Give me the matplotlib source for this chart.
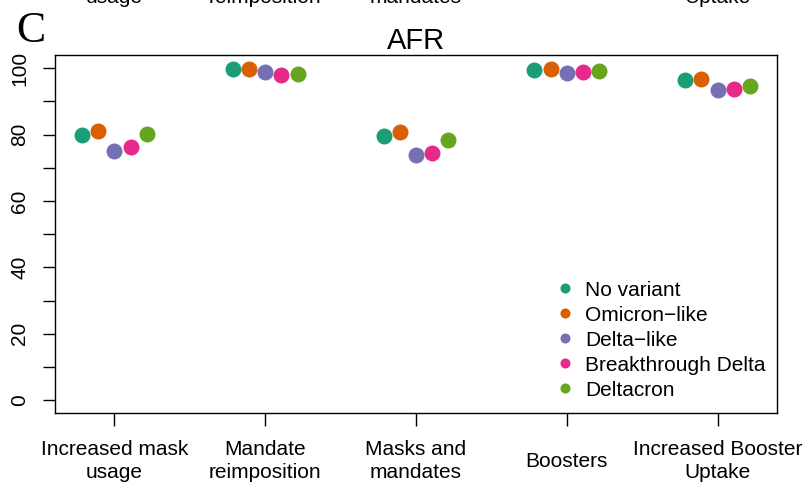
import numpy as np
import matplotlib
matplotlib.use("Agg")
import matplotlib.pyplot as plt

# scenarios on the x axis
scenarios = ["Increased mask\nusage", "Mandate\nreimposition", "Masks and\nmandates",
             "Boosters", "Increased Booster\nUptake"]
# second lines of the panel above (cut off at the top)
upper_labels = ["usage", "reimposition", "mandates", "", "Uptake"]

variants = ["No variant", "Omicron\u2212like", "Delta\u2212like", "Breakthrough Delta", "Deltacron"]
colors = ["#1B9E77", "#D95F02", "#7570B3", "#E7298A", "#66A61E"]

# AFR values per variant, one per scenario
no_variant = [79.8, 99.8, 79.5, 99.5, 96.5]
omicron_like = [81.1, 99.7, 80.9, 99.7, 96.9]
delta_like = [75.0, 98.9, 73.9, 98.5, 93.3]
breakthrough_delta = [76.3, 98.0, 74.5, 98.9, 93.9]
deltacron = [80.1, 98.2, 78.4, 99.2, 94.7]
series = [no_variant, omicron_like, delta_like, breakthrough_delta, deltacron]

plt.rcParams["font.family"] = ["Liberation Sans", "DejaVu Sans"]

W, H = 809, 488
fig = plt.figure(figsize=(W / 100, H / 100), dpi=100)
ax = fig.add_axes([55 / W, 1 - 413.3 / H, (777 - 55) / W, (413.3 - 55) / H])

x = np.arange(1, len(scenarios) + 1)
step = 0.1076
handles = []
for k, (vals, col, name) in enumerate(zip(series, colors, variants)):
    h, = ax.plot(x + (k - 2) * step, vals, "o", ms=11.5, mew=0, color=col,
                 label=name, linestyle="none")
    handles.append(h)

ax.set_xlim(0.607, 5.393)
ax.set_ylim(-4, 104)

ax.set_xticks(x)
ax.set_xticklabels(scenarios, fontsize=15, va="center", linespacing=1.3)
ax.set_yticks(np.arange(0, 101, 20))
ax.set_yticks(np.arange(10, 100, 20), minor=True)
ax.set_yticklabels([str(v) for v in range(0, 101, 20)], fontsize=15,
                   rotation=90, va="center")
ax.tick_params(axis="x", length=9.5, width=1.0, pad=25, color="black")
ax.tick_params(axis="y", which="both", length=9, width=1.0, pad=9.5, color="black")
for sp in ax.spines.values():
    sp.set_linewidth(1.0)
    sp.set_color("black")

ax.set_title("AFR", fontsize=21, pad=3.6)

ax.legend(handles=handles, loc="upper left",
          bbox_to_anchor=(556.7 / W, 1 - 280.5 / H), bbox_transform=fig.transFigure,
          frameon=False, fontsize=15, markerscale=0.63, handlelength=0.8,
          handletextpad=0.56, labelspacing=0.29, borderpad=0, borderaxespad=0)

# panel letter
fig.text(16 / W, 1 - 42 / H, "C", fontsize=31.5, family="Liberation Serif",
         ha="left", va="baseline")

# remains of the previous panel's tick labels
for xi, lab in zip(x, upper_labels):
    if lab:
        xd = ax.transData.transform((xi, 0))[0]
        fig.text(xd / W, 1 - 3 / H, lab, fontsize=15, ha="center", va="baseline")

fig.savefig("out.png", dpi=100)
